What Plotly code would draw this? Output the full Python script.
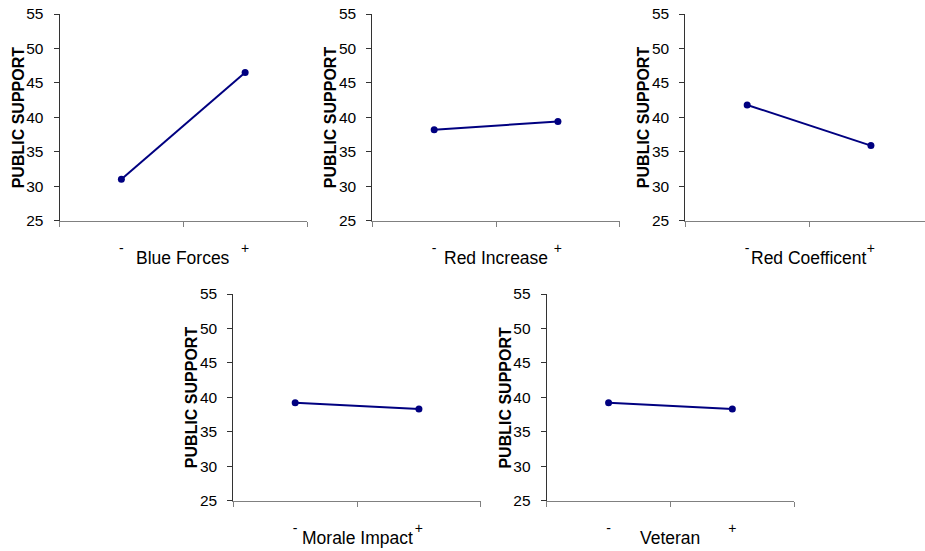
import plotly.graph_objects as go

# Main-effect plots: mean public support at the low (-) and high (+) level of each factor
factors = ["Blue Forces", "Red Increase", "Red Coefficent", "Morale Impact", "Veteran"]
levels = ["-", "+"]
support_low = [31.0, 38.2, 41.8, 39.2, 39.2]
support_high = [46.5, 39.4, 35.9, 38.3, 38.3]
y_ticks = [25, 30, 35, 40, 45, 50, 55]

W, H = 925, 551
PANEL_W = 247.5

# Left edge / top / bottom of each panel's plotting area, in pixels
panel_left = [59.5, 372.3, 685.3, 233.3, 546.7]
panel_top = [14.0, 14.0, 14.0, 294.0, 294.0]
panel_bottom = [220.7, 220.7, 220.7, 500.7, 500.7]

FONT = "Arial, Liberation Sans, sans-serif"
LINE_COLOR = "#000080"

fig = go.Figure()
layout = dict(
    width=W, height=H, autosize=False,
    margin=dict(l=0, r=0, t=0, b=0, pad=0),
    paper_bgcolor="white", plot_bgcolor="white",
    showlegend=False,
    font=dict(family=FONT, color="black"),
    annotations=[],
)

for i, name in enumerate(factors):
    n = "" if i == 0 else str(i + 1)
    fig.add_trace(go.Scatter(
        x=levels, y=[support_low[i], support_high[i]],
        mode="lines+markers",
        line=dict(color=LINE_COLOR, width=2),
        marker=dict(color=LINE_COLOR, size=7),
        xaxis="x" + n, yaxis="y" + n,
        hoverinfo="skip",
    ))

    x0 = panel_left[i]
    x1 = min(x0 + PANEL_W, W)
    # category span covers -0.5 .. 1.5 over the full panel width
    r_hi = -0.5 + 2.0 * (x1 - x0) / PANEL_W
    layout["xaxis" + n] = dict(
        domain=[x0 / W, x1 / W],
        anchor="y" + n,
        type="category",
        categoryorder="array", categoryarray=levels,
        range=[-0.5, r_hi],
        automargin=False,
        showline=True, linecolor="#808080", linewidth=1,
        ticks="outside", tickson="boundaries", ticklen=5,
        tickcolor="#808080", tickwidth=1,
        showgrid=False, zeroline=False,
        tickfont=dict(family=FONT, size=14, color="black"),
        ticklabelstandoff=14,
        fixedrange=True,
    )
    layout["yaxis" + n] = dict(
        domain=[1 - panel_bottom[i] / H, 1 - panel_top[i] / H],
        anchor="x" + n,
        range=[25, 55],
        tickvals=y_ticks,
        automargin=False,
        showline=True, linecolor="#333333", linewidth=1,
        ticks="outside", ticklen=5, tickcolor="#333333", tickwidth=1,
        showgrid=False, zeroline=False,
        tickfont=dict(family=FONT, size=15.5, color="black"),
        ticklabelstandoff=7,
        fixedrange=True,
    )
    # y-axis title
    layout["annotations"].append(dict(
        text="<b>PUBLIC SUPPORT</b>",
        xref="x" + n + " domain", yref="y" + n + " domain",
        x=0, y=0.5, xshift=-41.5,
        xanchor="center", yanchor="middle",
        textangle=-90, showarrow=False,
        font=dict(family=FONT, size=16, color="black"),
    ))
    # x-axis title, centred under the middle tick
    layout["annotations"].append(dict(
        text=name,
        xref="x" + n, yref="y" + n + " domain",
        x=0.5, y=0, yshift=-37,
        xanchor="center", yanchor="middle",
        showarrow=False,
        font=dict(family=FONT, size=17.5, color="black"),
    ))

fig.update_layout(**layout)
fig.write_html("out.html", config={"responsive": False, "displayModeBar": False})
